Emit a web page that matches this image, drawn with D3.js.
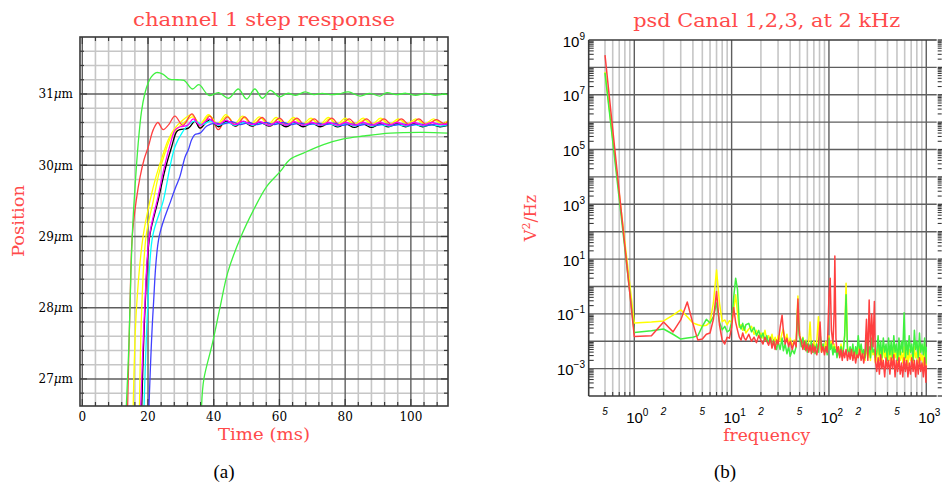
<!DOCTYPE html>
<html><head><meta charset="utf-8">
<script src="https://cdn.jsdelivr.net/npm/d3@7"></script>
<style>body{margin:0;background:#fff}svg{display:block}</style>
</head><body><svg id="c" width="942" height="493"></svg>
<script>
// ---------- (a) step response data: [time ms, position µm] ----------
const timeTicks = [0, 20, 40, 60, 80, 100];
const posTicks = [27, 28, 29, 30, 31];

const stepYellow1 = [[15.5,26.62],[16.5,28.0],[18.5,29.0],[20.6,29.5],[22.5,29.85],[24.2,30.1],[26.2,30.36],[28.2,30.52],[30.3,30.62],[33.3,30.71],[35.8,30.58],[38.4,30.71],[41.1,30.58],[43.7,30.71],[46.3,30.58],[48.8,30.69],[51.3,30.58],[53.9,30.68],[56.5,30.57],[59.0,30.67],[61.6,30.57],[64.3,30.67],[66.9,30.57],[69.6,30.66],[72.2,30.57],[74.9,30.67],[77.5,30.57],[80.0,30.66],[82.7,30.57],[85.5,30.66],[88.1,30.57],[90.8,30.66],[93.4,30.57],[96.2,30.65],[98.8,30.58],[101.5,30.65],[104.2,30.58],[106.9,30.65],[109.5,30.58],[111.4,30.63]];
const stepYellow2 = [[17.4,26.62],[18.1,28.0],[19.4,29.0],[21.6,29.5],[23.4,29.9],[25.0,30.15],[27.0,30.4],[29.0,30.52],[31.0,30.6],[33.6,30.68],[36.0,30.57],[38.6,30.7],[41.3,30.57],[44.0,30.69],[46.6,30.57],[49.2,30.67],[51.8,30.57],[54.4,30.66],[57.0,30.56],[59.6,30.65],[62.2,30.56],[64.8,30.65],[67.4,30.56],[70.0,30.64],[72.6,30.56],[75.3,30.65],[77.9,30.56],[80.5,30.64],[83.1,30.56],[85.9,30.64],[88.5,30.56],[91.2,30.64],[93.8,30.56],[96.6,30.64],[99.2,30.57],[101.9,30.64],[104.6,30.57],[107.3,30.63],[109.9,30.57],[111.4,30.61]];
const stepRed = [[13.8,26.62],[14.5,28.0],[15.2,29.0],[16.4,29.5],[17.6,29.84],[18.8,30.08],[20.1,30.26],[21.6,30.5],[23.0,30.6],[24.6,30.5],[26.3,30.57],[28.2,30.69],[30.6,30.56],[33.4,30.72],[36.0,30.52],[38.8,30.69],[41.4,30.5],[44.1,30.68],[46.8,30.55],[49.4,30.68],[52.0,30.55],[54.7,30.67],[57.3,30.55],[60.0,30.66],[62.6,30.55],[65.3,30.66],[67.9,30.55],[70.6,30.65],[73.2,30.55],[75.9,30.66],[78.5,30.55],[81.2,30.65],[83.8,30.55],[86.5,30.65],[89.1,30.55],[91.8,30.65],[94.4,30.56],[97.1,30.65],[99.7,30.56],[102.4,30.65],[105.0,30.56],[107.7,30.64],[110.3,30.58],[111.4,30.62]];
const stepBlack = [[18.1,26.62],[19.1,28.0],[20.5,29.0],[23.1,29.51],[25.2,29.94],[27.2,30.26],[28.7,30.47],[29.7,30.5],[32.3,30.52],[34.3,30.62],[35.8,30.52],[38.9,30.64],[41.4,30.54],[44.0,30.62],[46.5,30.55],[49.0,30.61],[51.6,30.55],[54.2,30.6],[56.8,30.55],[59.4,30.6],[62.0,30.54],[64.6,30.6],[67.2,30.54],[69.8,30.59],[72.4,30.54],[75.0,30.59],[77.6,30.54],[80.2,30.58],[82.8,30.53],[85.4,30.58],[88.0,30.53],[90.6,30.58],[93.2,30.54],[95.8,30.58],[98.4,30.54],[101.0,30.58],[103.6,30.54],[106.2,30.57],[108.8,30.54],[111.4,30.56]];
const stepCyan = [[18.8,26.62],[19.9,28.0],[21.4,29.0],[24.7,29.51],[26.7,29.98],[28.2,30.26],[30.3,30.45],[32.3,30.57],[34.3,30.62],[36.5,30.57],[39.0,30.62],[41.5,30.56],[44.0,30.6],[46.6,30.56],[49.2,30.6],[51.8,30.56],[54.4,30.59],[57.0,30.56],[59.6,30.59],[62.2,30.56],[64.8,30.59],[67.4,30.56],[70.0,30.58],[72.6,30.56],[75.2,30.58],[77.8,30.55],[80.4,30.58],[83.0,30.55],[85.6,30.58],[88.2,30.55],[90.8,30.57],[93.4,30.55],[96.0,30.57],[98.6,30.55],[101.2,30.57],[103.8,30.55],[106.4,30.57],[109.0,30.55],[111.4,30.57]];
const stepBlue = [[20.3,26.62],[21.6,28.0],[23.4,29.0],[27.0,29.51],[28.5,29.7],[29.7,29.84],[31.3,30.12],[32.3,30.22],[33.3,30.36],[34.3,30.43],[35.8,30.45],[37.9,30.55],[40.4,30.59],[43.0,30.58],[45.5,30.61],[48.0,30.57],[50.6,30.6],[53.2,30.57],[55.8,30.6],[58.4,30.57],[61.0,30.6],[63.6,30.57],[66.2,30.59],[68.8,30.57],[71.4,30.59],[74.0,30.57],[76.6,30.59],[79.2,30.56],[81.8,30.58],[84.4,30.56],[87.0,30.58],[89.6,30.56],[92.2,30.58],[94.8,30.56],[97.4,30.58],[100.0,30.56],[102.6,30.58],[105.2,30.56],[107.8,30.58],[110.4,30.57],[111.4,30.57]];
const stepMagenta = [[17.8,26.62],[19.0,28.0],[20.4,29.0],[23.0,29.55],[25.0,29.98],[26.8,30.3],[28.3,30.5],[29.8,30.54],[32.0,30.56],[33.8,30.65],[35.8,30.56],[38.6,30.65],[41.2,30.57],[43.8,30.63],[46.4,30.57],[49.0,30.62],[51.6,30.57],[54.2,30.61],[56.8,30.56],[59.4,30.61],[62.0,30.56],[64.6,30.61],[67.2,30.56],[69.8,30.6],[72.4,30.56],[75.0,30.6],[77.6,30.56],[80.2,30.6],[82.8,30.56],[85.4,30.6],[88.0,30.56],[90.6,30.6],[93.2,30.56],[95.8,30.6],[98.4,30.56],[101.0,30.6],[103.6,30.56],[106.2,30.6],[108.8,30.57],[111.4,30.58]];
const stepGreenFast = [[13.4,26.62],[14.2,27.5],[14.8,28.5],[15.4,29.2],[16.2,29.8],[17.0,30.3],[18.0,30.75],[19.0,31.0],[20.0,31.15],[21.0,31.24],[22.5,31.3],[24.5,31.28],[26.5,31.21],[29.0,31.2],[31.0,31.19],[33.5,31.07],[35.5,31.13],[38.5,30.98],[41.5,31.02],[44.5,30.94],[47.5,31.07],[50.0,30.93],[52.5,31.07],[54.8,30.94],[57.2,31.05],[60.0,30.96],[62.5,31.01],[65.0,30.98],[67.8,31.03],[70.5,30.99],[73.0,31.01],[75.5,30.99],[78.0,31.0],[81.0,31.03],[84.5,30.97],[87.5,31.01],[90.6,30.97],[92.7,31.02],[95.5,30.99],[98.5,31.01],[101.5,30.98],[104.5,31.01],[107.5,30.98],[110.0,31.0],[111.4,30.99]];
const stepGreenSlow = [[36.3,26.62],[37.0,27.0],[39.6,27.5],[41.9,28.0],[44.3,28.5],[48.3,29.0],[52.1,29.37],[56.1,29.7],[60.2,29.91],[63.2,30.08],[67.3,30.17],[73.4,30.29],[79.5,30.37],[85.5,30.41],[93.7,30.45],[103.8,30.46],[111.4,30.45]];

// ---------- (b) PSD data ----------
const psdFreq = [0.5,1,1.5,2,2.5,3,3.5,4,4.5,5,5.5,6,6.5,7,7.5,8,8.5,9,9.5,10,10.5,11,11.5,
12,12.5,13,13.5,14,15,16,17,18,19,
20,21,22,23,24,25,26,27,28,29,
30,31.5,33,34,35.5,37,38.5,40,42,44,
46,48,49,50,52,54,56,58,60,62,
64,66,68,70,72,75,78,81,84,87,
90,93,96,100,103,106,110,113,115,118,
121,125,129,133,137,141,145,150,155,160,
165,170,176,182,188,194,200,207,214,221,
228,235,243,251,259,267,275,284,293,300,
310,320,330,340,350,362,374,386,398,410,
423,436,450,464,478,493,508,524,540,557,
574,592,610,629,648,668,689,710,732,755,
778,802,827,852,878,905,933,962,991,1000];

const psdYellow = [6.9e7,4.6e-2,5.0e-2,5.5e-2,8.9e-2,1.4e-1,7.9e-2,4.6e-2,4.0e-2,3.6e-2,3.8e-2,5.0e-2,2.5e-1,4.0,2.5e-1,5.2e-2,6.0e-2,4.0e-2,5.6e-2,5.0e-2,1.4e-1,5.0e-1,1.0e-1,
3.2e-2,4.0e-2,2.5e-2,3.5e-2,2.0e-2,2.8e-2,3.5e-2,1.8e-2,2.5e-2,1.4e-2,
2.0e-2,1.3e-2,2.5e-2,1.1e-2,1.6e-2,1.0e-2,1.8e-2,8.9e-3,1.4e-2,7.9e-3,
1.6e-2,1.0e-2,2.0e-2,2.8e-2,1.0e-2,1.8e-2,7.9e-3,1.3e-2,6.3e-3,1.1e-2,
1.0e-2,4.5e-1,4.0e-2,1.6e-2,7.9e-3,1.4e-2,6.3e-3,1.1e-2,5.0e-3,1.0e-2,
5.0e-2,6.3e-3,4.0e-3,1.0e-2,5.0e-3,1.0e-2,7.9e-2,6.3e-3,4.0e-3,7.9e-3,
5.0e-3,1.0e-2,4.0e-3,1.6e-2,6.3e-3,1.0e-2,4.0e-3,7.9e-3,5.0e-3,6.3e-3,
4.0e-3,6.3e-3,3.2e-3,7.9e-3,4.0e-3,6.3e-3,1.6e-2,1.3,6.3e-3,4.0e-3,
5.0e-3,3.2e-3,6.3e-3,2.5e-3,5.0e-3,2.5e-3,1.0e-2,3.2e-3,6.3e-3,2.5e-3,
4.0e-3,2.0e-3,6.3e-3,2.5e-3,5.0e-3,2.0e-3,7.9e-3,3.2e-3,4.0e-3,1.6e-3,
2.5e-3,6.3e-3,2.0e-3,5.0e-3,1.6e-3,6.3e-3,2.5e-3,4.0e-3,1.3e-3,5.0e-3,
2.0e-3,5.0e-3,1.6e-3,6.3e-3,2.5e-3,4.0e-3,1.3e-3,5.0e-3,2.0e-3,4.0e-3,
1.6e-3,6.3e-3,2.0e-3,4.0e-3,1.3e-3,5.0e-3,2.0e-3,3.2e-3,1.3e-3,6.3e-3,
2.5e-3,4.0e-3,1.6e-3,6.3e-3,2.0e-3,3.2e-3,1.3e-3,7.9e-3,1.0e-3,4.0e-3];

const psdGreen = [6.3e7,2.1e-2,2.4e-2,2.8e-2,1.8e-2,1.2e-2,1.3e-2,1.4e-2,1.6e-2,3.5e-2,6.3e-2,4.6e-2,7.9e-2,2.5e-1,5.0e-2,2.6e-2,3.5e-2,2.2e-2,2.5e-2,5.0e-2,4.0e-1,2.0,7.6e-1,
4.0e-2,2.8e-2,4.5e-2,2.5e-2,4.0e-2,4.5e-2,2.2e-2,3.2e-2,1.6e-2,2.5e-2,
1.3e-2,2.0e-2,1.0e-2,1.6e-2,7.9e-3,1.4e-2,6.3e-3,1.1e-2,7.1e-3,5.0e-3,
1.0e-2,5.0e-3,1.3e-2,4.5e-3,7.9e-3,3.5e-3,6.3e-3,2.8e-3,5.0e-3,3.5e-3,
6.3e-3,2.5e-1,2.5e-2,1.3e-2,6.3e-3,1.3e-2,5.0e-3,1.0e-2,4.0e-3,7.9e-3,
4.5e-3,1.0e-2,4.0e-3,7.1e-3,3.5e-3,7.9e-3,4.0e-3,2.0e-2,5.0e-3,7.9e-3,
4.0e-3,6.3e-3,3.2e-3,1.3e-2,5.0e-3,7.9e-3,3.2e-3,6.3e-3,4.0e-3,5.0e-3,
2.5e-3,5.0e-3,2.8e-3,6.3e-3,3.2e-3,5.0e-3,1.6e-2,5.0e-1,5.0e-3,3.2e-3,
6.3e-3,3.2e-3,7.9e-3,2.5e-3,6.3e-3,3.2e-3,1.6e-2,4.0e-3,7.9e-3,3.2e-3,
5.0e-3,2.5e-3,1.0e-2,3.2e-3,6.3e-3,2.5e-3,1.3e-2,4.0e-3,5.0e-3,2.5e-3,
4.0e-3,1.6e-2,3.2e-3,1.0e-2,2.5e-3,1.3e-2,4.0e-3,7.9e-3,2.0e-3,1.3e-2,
3.2e-3,1.0e-2,2.5e-3,1.6e-2,4.0e-3,7.9e-3,2.0e-3,1.3e-2,3.2e-3,1.0e-2,
4.0e-3,1.1e-1,2.5e-3,1.0e-2,3.2e-3,1.6e-2,4.0e-3,7.9e-3,2.0e-3,2.5e-2,
5.0e-3,1.0e-2,2.5e-3,2.0e-2,4.0e-3,7.9e-3,3.2e-3,1.3e-2,1.6e-3,6.3e-3];

const psdRed = [2.8e8,1.5e-2,1.6e-2,5.0e-2,2.2e-2,6.0e-2,2.7e-1,4.5e-2,1.1e-2,1.2e-2,1.8e-2,2.0e-2,6.3e-2,6.5e-1,4.0e-2,1.1e-2,7.9e-3,1.4e-2,1.3e-2,3.2e-2,1.7e-1,5.0e-2,2.5e-2,
1.4e-2,1.1e-2,2.0e-2,1.3e-2,1.1e-2,1.8e-2,1.0e-2,1.4e-2,8.9e-3,1.6e-2,
1.1e-2,7.9e-3,1.4e-2,1.0e-2,7.1e-3,1.3e-2,5.6e-3,1.0e-2,5.0e-3,1.1e-2,
7.9e-3,3.2e-2,8.9e-2,2.5e-2,7.9e-3,1.3e-2,6.3e-3,1.0e-2,5.0e-3,1.0e-2,
6.3e-3,3.5e-1,5.0e-2,1.6e-2,1.0e-2,5.0e-3,1.0e-2,4.5e-3,7.9e-3,4.0e-3,
7.1e-3,3.5e-3,7.9e-3,4.0e-3,6.3e-3,3.2e-3,7.1e-3,5.0e-2,4.0e-3,6.3e-3,
3.2e-3,6.3e-3,4.0e-3,4.0e-1,2.0,2.5e-2,7.9e-3,1.0e-1,1.3e1,1.3e-2,
4.0e-3,6.3e-3,2.5e-3,5.0e-3,2.0e-3,4.5e-3,2.5e-3,5.0e-3,2.0e-3,4.0e-3,
2.2e-3,5.0e-3,2.0e-3,4.0e-3,1.6e-3,3.2e-3,2.5e-3,5.0e-3,2.0e-3,3.5e-3,
1.6e-3,4.0e-3,6.3e-2,2.0e-3,3.2e-1,5.0e-3,1.0e-1,6.3e-3,2.8e-1,2.0e-3,
7.9e-4,2.5e-3,6.3e-4,3.2e-3,1.0e-3,2.0e-3,5.0e-4,2.5e-3,1.0e-3,2.0e-3,
6.3e-4,2.5e-3,1.0e-3,3.2e-3,5.0e-4,2.0e-3,7.9e-4,2.5e-3,6.3e-4,1.6e-3,
5.0e-4,2.5e-3,7.9e-4,2.0e-3,5.0e-4,1.6e-3,6.3e-4,2.5e-3,7.9e-4,2.0e-3,
5.0e-4,2.0e-3,6.3e-4,2.5e-3,7.9e-4,1.6e-3,5.0e-4,2.5e-3,3.2e-4,1.3e-3];

const psdExpLabels = [9, 7, 5, 3, 1, -1, -3];
const freqDecades = [1, 10, 100, 1000];
const freqMinorLabels = [[0.5,"5"],[2,"2"],[5,"5"],[20,"2"],[50,"5"],[200,"2"],[500,"5"]];

// ---------- drawing ----------
const svg = d3.select('#c');
svg.append('rect').attr('width', 942).attr('height', 493).attr('fill', '#fff');
const RED = '#ff4a4a';
const MINOR = '#c6c6c6', MAJOR = '#5e5e5e', FRAME = '#3a3a3a';
const SERIF = "'DejaVu Serif', serif";
const defs = svg.append('defs');

// ===== Panel (a) =====
const A = {x0: 80, x1: 448, y0: 37, y1: 406};
const xA = d3.scaleLinear().domain([-0.7, 111.3]).range([A.x0, A.x1]);
const yA = d3.scaleLinear().domain([26.62, 31.8]).range([A.y1, A.y0]);
const gA = svg.append('g');

const xMinorA = d3.range(4, 112, 4).filter(v => v % 20 !== 0);
const yMinorA = d3.range(26.8, 31.8, 0.2).filter(v => Math.abs(v - Math.round(v)) > 0.01);

gA.selectAll('.vmin').data(xMinorA).enter().append('line')
  .attr('x1', d => xA(d)).attr('x2', d => xA(d)).attr('y1', A.y0).attr('y2', A.y1)
  .attr('stroke', MINOR).attr('stroke-width', 1.6);
gA.selectAll('.hmin').data(yMinorA).enter().append('line')
  .attr('y1', d => yA(d)).attr('y2', d => yA(d)).attr('x1', A.x0).attr('x2', A.x1)
  .attr('stroke', MINOR).attr('stroke-width', 1.6);
gA.selectAll('.vmaj').data(timeTicks).enter().append('line')
  .attr('x1', d => xA(d)).attr('x2', d => xA(d)).attr('y1', A.y0).attr('y2', A.y1)
  .attr('stroke', MAJOR).attr('stroke-width', 1.4);
gA.selectAll('.hmaj').data(posTicks).enter().append('line')
  .attr('y1', d => yA(d)).attr('y2', d => yA(d)).attr('x1', A.x0).attr('x2', A.x1)
  .attr('stroke', MAJOR).attr('stroke-width', 1.4);

// ticks (inward)
const tickLenA = 4;
[...yMinorA, ...posTicks].forEach(v => {
  const L = posTicks.includes(v) ? 7 : tickLenA;
  gA.append('line').attr('x1', A.x0).attr('x2', A.x0 + L).attr('y1', yA(v)).attr('y2', yA(v)).attr('stroke', FRAME).attr('stroke-width', 1.2);
  gA.append('line').attr('x1', A.x1).attr('x2', A.x1 - L).attr('y1', yA(v)).attr('y2', yA(v)).attr('stroke', FRAME).attr('stroke-width', 1.2);
});
[...xMinorA, ...timeTicks].forEach(v => {
  const L = timeTicks.includes(v) ? 7 : tickLenA;
  gA.append('line').attr('y1', A.y1).attr('y2', A.y1 - L).attr('x1', xA(v)).attr('x2', xA(v)).attr('stroke', FRAME).attr('stroke-width', 1.2);
  gA.append('line').attr('y1', A.y0).attr('y2', A.y0 + L).attr('x1', xA(v)).attr('x2', xA(v)).attr('stroke', FRAME).attr('stroke-width', 1.2);
});

defs.append('clipPath').attr('id', 'clipA').append('rect')
  .attr('x', A.x0).attr('y', A.y0).attr('width', A.x1 - A.x0).attr('height', A.y1 - A.y0);
const lineA = d3.line().x(d => xA(d[0])).y(d => yA(d[1])).curve(d3.curveCatmullRom.alpha(0.5));
const stepSeries = [
  [stepYellow1, '#ffff00'], [stepYellow2, '#ffff00'], [stepRed, '#ff4040'],
  [stepBlack, '#000000'], [stepCyan, '#00ffff'], [stepBlue, '#4040ff'],
  [stepMagenta, '#ff00ff'], [stepGreenFast, '#40f040'], [stepGreenSlow, '#40f040']
];
const curvesA = gA.append('g').attr('clip-path', 'url(#clipA)');
stepSeries.forEach(([data, col]) => {
  curvesA.append('path').attr('d', lineA(data)).attr('fill', 'none')
    .attr('stroke', col).attr('stroke-width', 1.3).attr('stroke-linejoin', 'round');
});

gA.append('rect').attr('x', A.x0).attr('y', A.y0).attr('width', A.x1 - A.x0).attr('height', A.y1 - A.y0)
  .attr('fill', 'none').attr('stroke', FRAME).attr('stroke-width', 1.6);

// tick labels
posTicks.forEach(v => {
  const t = gA.append('text').attr('x', 73).attr('y', yA(v) + 4.5).attr('text-anchor', 'end')
    .attr('font-family', SERIF).attr('font-size', 12).attr('fill', '#000');
  t.append('tspan').text(String(v));
  t.append('tspan').attr('font-style', 'italic').text('μ');
  t.append('tspan').text('m');
});
timeTicks.forEach(v => {
  gA.append('text').attr('x', xA(v)).attr('y', 421).attr('text-anchor', 'middle')
    .attr('font-family', SERIF).attr('font-size', 12).attr('fill', '#000').text(String(v));
});
gA.append('text').attr('x', 264).attr('y', 26).attr('text-anchor', 'middle')
  .attr('font-family', SERIF).attr('font-size', 19).attr('fill', RED)
  .attr('textLength', 262).attr('lengthAdjust', 'spacingAndGlyphs').text('channel 1 step response');
gA.append('text').attr('x', 264).attr('y', 440).attr('text-anchor', 'middle')
  .attr('font-family', SERIF).attr('font-size', 16).attr('fill', RED)
  .attr('textLength', 92).attr('lengthAdjust', 'spacingAndGlyphs').text('Time (ms)');
gA.append('text').attr('transform', 'translate(24,221) rotate(-90)').attr('text-anchor', 'middle')
  .attr('font-family', SERIF).attr('font-size', 16).attr('fill', RED)
  .attr('textLength', 72).attr('lengthAdjust', 'spacingAndGlyphs').text('Position');
svg.append('text').attr('x', 224).attr('y', 478).attr('text-anchor', 'middle')
  .attr('font-family', "'Liberation Serif', serif").attr('font-size', 19).attr('fill', '#000').text('(a)');

// ===== Panel (b) =====
const B = {x0: 588.7, x1: 936.7, y0: 40, y1: 396};
const xB = d3.scaleLog().domain([0.34, 1280]).range([B.x0, B.x1]);
const yB = d3.scaleLog().domain([1e-4, 1e9]).range([B.y1, B.y0]);
const gB = svg.append('g');

const fMinor = [];
[0.1, 1, 10, 100, 1000].forEach(dec => { for (let m = 2; m <= 9; m++) { const f = dec * m; if (f >= 0.45 && f < 1280) fMinor.push(f); } });
const pDecades = d3.range(-4, 10).map(k => Math.pow(10, k));
const pMinor = [];
d3.range(-4, 9).forEach(k => { for (let m = 2; m <= 9; m++) pMinor.push(m * Math.pow(10, k)); });

gB.selectAll('.vmin').data(fMinor).enter().append('line')
  .attr('x1', d => xB(d)).attr('x2', d => xB(d)).attr('y1', B.y0).attr('y2', B.y1)
  .attr('stroke', MINOR).attr('stroke-width', 1.6);
gB.selectAll('.vmaj').data(freqDecades).enter().append('line')
  .attr('x1', d => xB(d)).attr('x2', d => xB(d)).attr('y1', B.y0).attr('y2', B.y1)
  .attr('stroke', MAJOR).attr('stroke-width', 1.4);
gB.selectAll('.hmaj').data(pDecades.slice(1, -1)).enter().append('line')
  .attr('y1', d => yB(d)).attr('y2', d => yB(d)).attr('x1', B.x0).attr('x2', B.x1)
  .attr('stroke', MAJOR).attr('stroke-width', 1.4);

pMinor.forEach(p => {
  gB.append('line').attr('x1', B.x0).attr('x2', B.x0 + 5).attr('y1', yB(p)).attr('y2', yB(p)).attr('stroke', FRAME).attr('stroke-width', 1.1);
  gB.append('line').attr('x1', B.x1 + 1).attr('x2', B.x1 + 5).attr('y1', yB(p)).attr('y2', yB(p)).attr('stroke', FRAME).attr('stroke-width', 1.1);
});
pDecades.forEach(p => {
  gB.append('line').attr('x1', B.x1 + 1).attr('x2', B.x1 + 6).attr('y1', yB(p)).attr('y2', yB(p)).attr('stroke', FRAME).attr('stroke-width', 1.3);
});
fMinor.forEach(f => {
  gB.append('line').attr('y1', B.y1).attr('y2', B.y1 - 4).attr('x1', xB(f)).attr('x2', xB(f)).attr('stroke', FRAME).attr('stroke-width', 1.1);
});

defs.append('clipPath').attr('id', 'clipB').append('rect')
  .attr('x', B.x0).attr('y', B.y0).attr('width', B.x1 - B.x0).attr('height', B.y1 - B.y0);
const curvesB = gB.append('g').attr('clip-path', 'url(#clipB)');
const lineB = d3.line().x((d, i) => xB(psdFreq[i])).y(d => yB(d));
[[psdYellow, '#ffff00'], [psdGreen, '#40f040'], [psdRed, '#ff4040']].forEach(([data, col]) => {
  curvesB.append('path').attr('d', lineB(data)).attr('fill', 'none')
    .attr('stroke', col).attr('stroke-width', 1.5).attr('stroke-linejoin', 'round');
});

gB.append('line').attr('x1', B.x0).attr('x2', B.x0).attr('y1', B.y0).attr('y2', B.y1).attr('stroke', FRAME).attr('stroke-width', 1.6);
gB.append('line').attr('x1', B.x0).attr('x2', B.x1).attr('y1', B.y0).attr('y2', B.y0).attr('stroke', FRAME).attr('stroke-width', 1.6);
gB.append('line').attr('x1', B.x0).attr('x2', B.x1).attr('y1', B.y1).attr('y2', B.y1).attr('stroke', FRAME).attr('stroke-width', 1.6);

const SANS = "'Liberation Sans', Arial, sans-serif";
psdExpLabels.forEach(k => {
  const t = gB.append('text').attr('x', 585).attr('y', yB(Math.pow(10, k)) + 6.5).attr('text-anchor', 'end')
    .attr('font-family', SANS).attr('font-size', 15).attr('fill', '#000');
  t.append('tspan').text('10');
  t.append('tspan').attr('dy', -7).attr('font-size', 10).text(String(k).replace('-', '−'));
});
freqDecades.forEach((f, i) => {
  const t = gB.append('text').attr('x', xB(f) + 3).attr('y', 423).attr('text-anchor', 'middle')
    .attr('font-family', SANS).attr('font-size', 15).attr('fill', '#000');
  t.append('tspan').text('10');
  t.append('tspan').attr('dy', -7).attr('font-size', 10).text(String(i));
});
freqMinorLabels.forEach(([f, s]) => {
  gB.append('text').attr('x', xB(f)).attr('y', 415).attr('text-anchor', 'middle')
    .attr('font-family', SANS).attr('font-style', 'italic').attr('font-size', 10).attr('fill', '#000').text(s);
});
gB.append('text').attr('x', 766.7).attr('y', 27).attr('text-anchor', 'middle')
  .attr('font-family', SERIF).attr('font-size', 19).attr('fill', RED)
  .attr('textLength', 267).attr('lengthAdjust', 'spacingAndGlyphs').text('psd Canal 1,2,3, at 2 kHz');
gB.append('text').attr('x', 766.7).attr('y', 441).attr('text-anchor', 'middle')
  .attr('font-family', SERIF).attr('font-size', 16).attr('fill', RED)
  .attr('textLength', 87).attr('lengthAdjust', 'spacingAndGlyphs').text('frequency');
const vl = gB.append('text').attr('transform', 'translate(536,218) rotate(-90)').attr('text-anchor', 'middle')
  .attr('font-family', SERIF).attr('font-size', 16).attr('fill', RED);
vl.append('tspan').text('V');
vl.append('tspan').attr('dy', -6).attr('font-size', 11).text('2');
vl.append('tspan').attr('dy', 6).text('/Hz');
svg.append('text').attr('x', 725).attr('y', 478).attr('text-anchor', 'middle')
  .attr('font-family', "'Liberation Serif', serif").attr('font-size', 19).attr('fill', '#000').text('(b)');
</script></body></html>
